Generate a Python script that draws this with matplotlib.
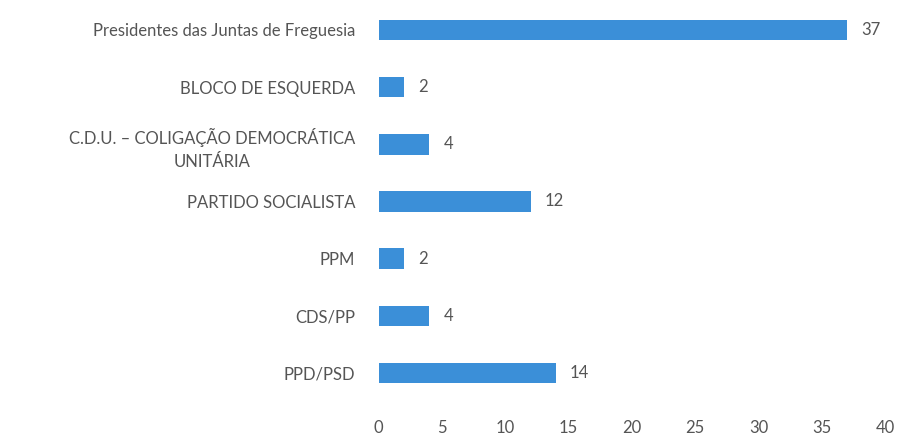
import matplotlib.pyplot as plt

categories = [
    'Presidentes das Juntas de Freguesia',
    'BLOCO DE ESQUERDA',
    'C.D.U. – COLIGAÇÃO DEMOCRÁTICA\nUNITÁRIA',
    'PARTIDO SOCIALISTA',
    'PPM',
    'CDS/PP',
    'PPD/PSD',
]
values = [37, 2, 4, 12, 2, 4, 14]
x_ticks = [0, 5, 10, 15, 20, 25, 30, 35, 40]

plt.rcParams['font.family'] = ['Lato', 'DejaVu Sans']

fig = plt.figure(figsize=(9.04, 4.37), dpi=100)
ax = fig.add_axes([0.419, 0.081, 0.56, 0.916])

pos = list(range(len(categories)))
ax.barh(pos, values, height=0.36, color='#3b8fd8')
for p, v in zip(pos, values):
    ax.text(v + 1.1, p, str(v), va='center', ha='left', fontsize=12, color='#555555')

ax.set_ylim(len(categories) - 0.5, -0.5)
ax.set_xlim(0, 40)
ax.set_yticks(pos)
ax.set_yticklabels(categories, fontsize=12, color='#555555', linespacing=1.5,
                   multialignment='center')
ax.set_xticks(x_ticks)
ax.set_xticklabels([str(t) for t in x_ticks], fontsize=12, color='#555555')
ax.tick_params(axis='both', length=0)
ax.tick_params(axis='y', pad=17)
ax.tick_params(axis='x', pad=13)
for s in ax.spines.values():
    s.set_visible(False)

fig.savefig('out.png', dpi=100)
